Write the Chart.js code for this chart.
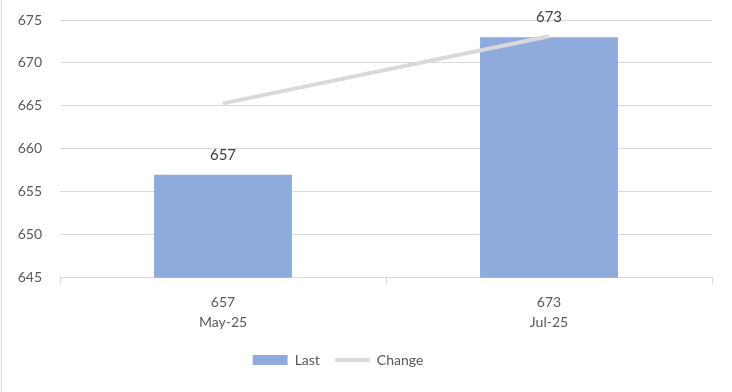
<!DOCTYPE html>
<html lang="en">
<head>
    <meta charset="UTF-8">
    <title>Last vs Change</title>
    <script src="https://cdn.jsdelivr.net/npm/chart.js"></script>
    <style>
        body { margin: 0; background: #fff; }
        #wrap { position: relative; width: 732px; height: 392px; }
    </style>
</head>
<body>
    <div id="wrap"><canvas id="chart"></canvas></div>
    <script>
        const categories = ['May-25', 'Jul-25'];
        const lastValues = [657, 673];
        const changeValues = [665.3, 673.1];
        const yTicks = [645, 650, 655, 660, 665, 670, 675];

        const grey = '#d9d9d9';
        const textColor = '#595959';
        const font = { family: 'Lato', size: 14 };

        // two-line category labels: value on top, month below
        const labels = categories.map((c, i) => [String(lastValues[i]), c]);

        const barLabels = {
            id: 'barLabels',
            afterLayout(chart) {
                // legend sits a little left of centre in the original
                chart.legend.left -= 18;
                chart.legend.right -= 18;
            },
            beforeDraw(chart) {
                const ctx = chart.ctx;
                ctx.save();
                ctx.fillStyle = grey;
                ctx.fillRect(1, 0, 1, chart.height);
                ctx.restore();
            },
            afterDatasetsDraw(chart) {
                const ctx = chart.ctx;
                const meta = chart.getDatasetMeta(0);
                ctx.save();
                ctx.font = '15px Lato';
                ctx.fillStyle = '#404040';
                ctx.textAlign = 'center';
                ctx.textBaseline = 'middle';
                meta.data.forEach((bar, i) => {
                    ctx.fillText(String(lastValues[i]), bar.x, bar.y - 20);
                });
                ctx.restore();
            }
        };

        new Chart(document.getElementById('chart'), {
            type: 'bar',
            data: {
                labels: labels,
                datasets: [{
                    label: 'Last',
                    data: lastValues,
                    backgroundColor: '#8faadc',
                    borderWidth: 0,
                    barPercentage: 0.423,
                    categoryPercentage: 1,
                    pointStyle: 'rect',
                    order: 2
                }, {
                    type: 'line',
                    label: 'Change',
                    data: changeValues,
                    borderColor: grey,
                    backgroundColor: grey,
                    borderWidth: 4,
                    pointRadius: 0,
                    pointStyle: 'line',
                    order: 1
                }]
            },
            plugins: [barLabels],
            options: {
                responsive: true,
                maintainAspectRatio: false,
                animation: false,
                layout: { padding: { top: 20, right: 20, left: 0, bottom: 15 } },
                plugins: {
                    tooltip: { enabled: false },
                    legend: {
                        position: 'bottom',
                        labels: {
                            usePointStyle: true,
                            pointStyleWidth: 35,
                            boxWidth: 35,
                            boxHeight: 10,
                            padding: 15,
                            color: textColor,
                            font: font,
                            sort: (a, b) => a.datasetIndex - b.datasetIndex
                        }
                    }
                },
                scales: {
                    x: {
                        afterFit(scale) { scale.height -= 3; },
                        grid: { drawOnChartArea: false, color: grey, tickLength: 6 },
                        border: { color: grey },
                        ticks: { color: textColor, font: { family: 'Lato', size: 14, lineHeight: 1.4 }, padding: 9 }
                    },
                    y: {
                        min: yTicks[0],
                        max: yTicks[yTicks.length - 1],
                        afterBuildTicks(scale) {
                            scale.ticks = yTicks.map(v => ({ value: v }));
                        },
                        afterFit(scale) {
                            scale.width = 60;
                            scale.paddingTop = 8;
                            scale.paddingBottom = 8;
                        },
                        grid: { color: grey, drawTicks: false },
                        border: { display: false },
                        ticks: { color: textColor, font: font, padding: 18 }
                    }
                }
            }
        });
    </script>
</body>
</html>
